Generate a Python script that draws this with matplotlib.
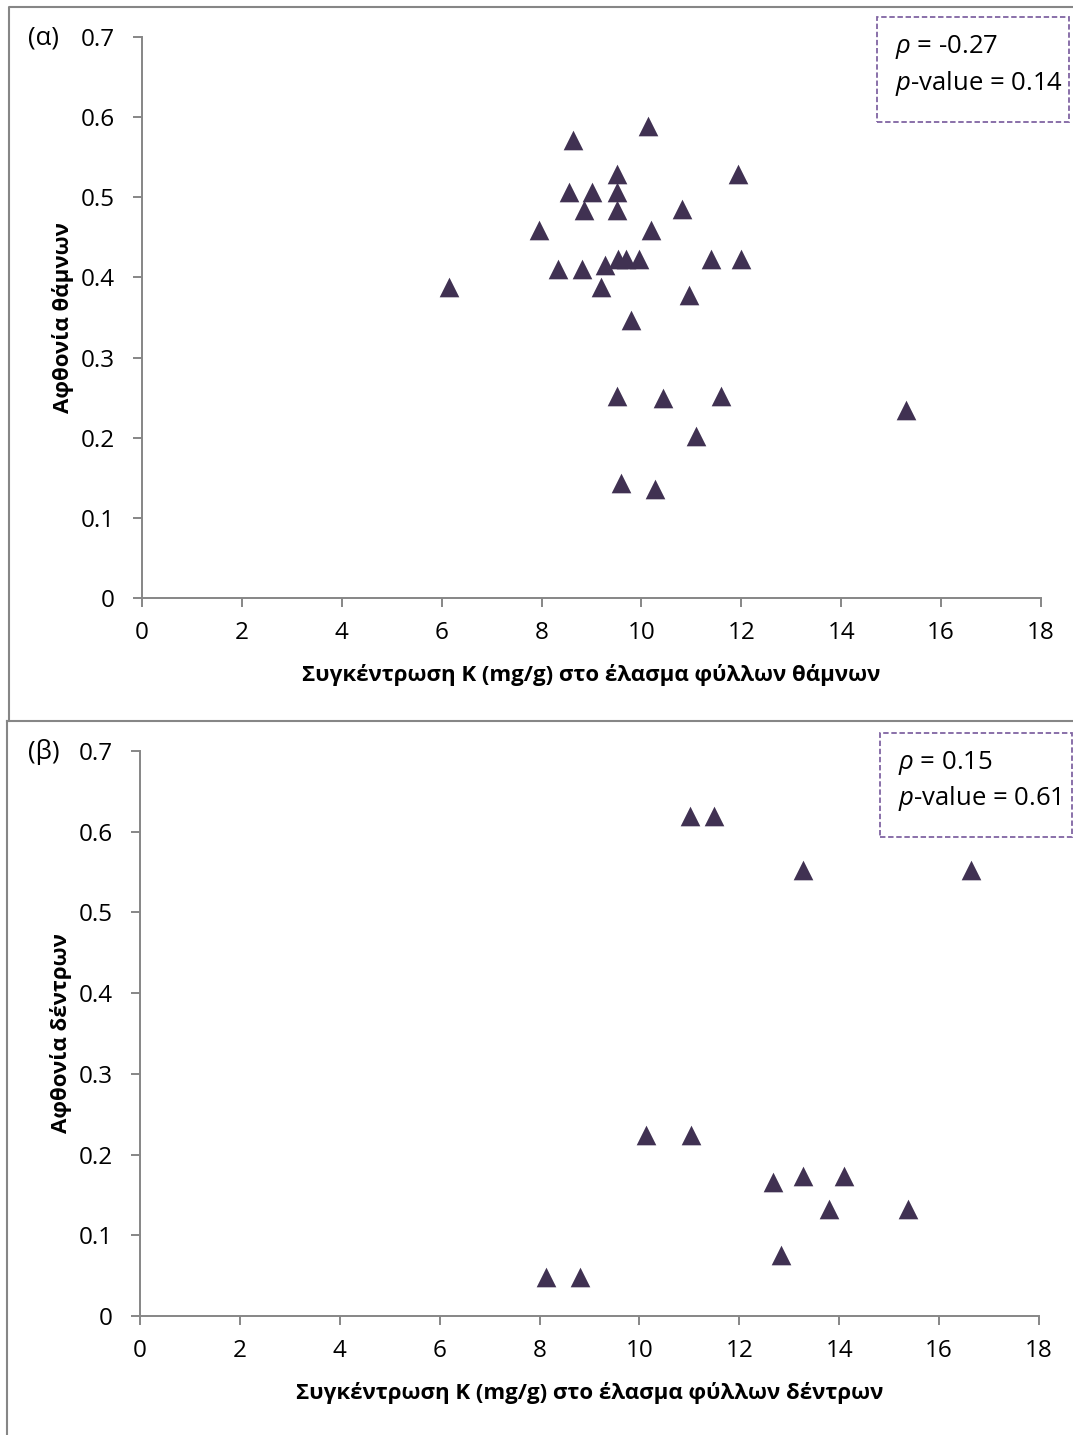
import matplotlib
matplotlib.use('Agg')
import matplotlib.pyplot as plt
from matplotlib.lines import Line2D
from matplotlib.patches import Rectangle

# K concentration (mg/g) in leaf lamina vs. abundance
shrub_k = [10.13, 8.62, 9.52, 11.93, 8.55, 9.00, 9.52, 8.85, 9.52, 10.81,
           7.94, 10.19, 8.32, 8.81, 9.28, 9.54, 9.69, 9.96, 11.40, 12.00,
           6.15, 9.20, 10.95, 9.80, 9.52, 10.43, 11.60, 11.10, 9.60, 10.28,
           15.30]
shrub_abund = [0.589, 0.571, 0.529, 0.529, 0.507, 0.507, 0.506, 0.484, 0.484, 0.485,
               0.459, 0.459, 0.411, 0.411, 0.416, 0.423, 0.423, 0.423, 0.423, 0.423,
               0.388, 0.388, 0.378, 0.347, 0.252, 0.250, 0.252, 0.202, 0.143, 0.136,
               0.235]

tree_k = [11.01, 11.50, 13.28, 16.63, 10.13, 11.03, 12.68, 13.28, 14.10,
          13.80, 15.38, 12.83, 8.13, 8.81]
tree_abund = [0.620, 0.620, 0.553, 0.553, 0.224, 0.224, 0.166, 0.174, 0.174,
              0.132, 0.132, 0.076, 0.048, 0.048]

x_ticks = [0, 2, 4, 6, 8, 10, 12, 14, 16, 18]
y_ticks = [0, 0.1, 0.2, 0.3, 0.4, 0.5, 0.6, 0.7]

panels = [
    dict(letter='(α)', x=shrub_k, y=shrub_abund,
         xlabel='Συγκέντρωση K (mg/g) στο έλασμα φύλλων θάμνων',
         ylabel='Αφθονία θάμνων', rho='-0.27', pval='0.14'),
    dict(letter='(β)', x=tree_k, y=tree_abund,
         xlabel='Συγκέντρωση K (mg/g) στο έλασμα φύλλων δέντρων',
         ylabel='Αφθονία δέντρων', rho='0.15', pval='0.61'),
]

plt.rcParams['font.family'] = ['Open Sans', 'DejaVu Sans']
plt.rcParams['mathtext.fontset'] = 'custom'
plt.rcParams['mathtext.it'] = 'Open Sans:italic'

W, H = 1073, 1435
fig = plt.figure(figsize=(W / 100, H / 100), dpi=100)

gray = '#868686'
marker_col = '#403152'
box_col = '#8064a2'
fs = 17.5      # tick labels
fs_lab = 16    # bold axis titles
fs_box = 18.5  # correlation text


def fx(px):
    return px / W


def fy(py):
    return 1 - py / H


# axes boxes in pixels: left, top, right, bottom
boxes = [(142, 37, 1041, 598), (140, 751, 1039, 1316)]
# legend boxes: left, top, right, bottom
leg_boxes = [(877, 17, 1069, 122), (880, 733, 1072, 837)]

for p, (l, t, r, b), (ll, lt, lr, lb) in zip(panels, boxes, leg_boxes):
    ax = fig.add_axes([fx(l), fy(b), fx(r - l), fy(t) - fy(b)])
    ax.scatter(p['x'], p['y'], marker='^', s=200, color=marker_col,
               linewidths=0, zorder=3, clip_on=False)
    ax.set_xlim(0, 18)
    ax.set_ylim(0, 0.7)
    ax.set_xticks(x_ticks)
    ax.set_yticks(y_ticks)
    ax.set_xticklabels([str(v) for v in x_ticks])
    ax.set_yticklabels(['0'] + ['%.1f' % v for v in y_ticks[1:]])
    for side in ['top', 'right']:
        ax.spines[side].set_visible(False)
    for side in ['left', 'bottom']:
        ax.spines[side].set_color(gray)
        ax.spines[side].set_linewidth(1.4)
    ax.tick_params(axis='both', direction='out', length=6.5, width=1.4,
                   color=gray, labelsize=fs, labelcolor='black')
    ax.tick_params(axis='x', pad=10)
    ax.tick_params(axis='y', pad=13)
    ax.set_xlabel(p['xlabel'], fontsize=fs_lab, fontweight='bold', labelpad=14)
    ax.set_ylabel(p['ylabel'], fontsize=fs_lab, fontweight='bold', labelpad=4.5)

    # panel letter
    fig.text(fx(28), fy(t + 1), p['letter'], fontsize=fs + 1, ha='left', va='center')

    # correlation box
    fig.patches.append(Rectangle((fx(ll), fy(lb)), fx(lr - ll), fy(lt) - fy(lb),
                                 transform=fig.transFigure, fill=False,
                                 edgecolor=box_col, linewidth=1.3,
                                 linestyle=(0, (3, 1.5))))
    fig.text(fx(ll + 18), fy(lt + 30), r'$\rho$ = ' + p['rho'],
             fontsize=fs_box, ha='left', va='center')
    fig.text(fx(ll + 18), fy(lt + 66), r'$p$-value = ' + p['pval'],
             fontsize=fs_box, ha='left', va='center')

# outer frames around the two panels
frame = dict(color=gray, linewidth=1.5, transform=fig.transFigure)
fig.lines.append(Line2D([fx(9), fx(9), 1], [fy(721), fy(7), fy(7)], **frame))
fig.lines.append(Line2D([fx(7), 1], [fy(721), fy(721)], **frame))
fig.lines.append(Line2D([fx(7), fx(7)], [fy(721), 0], **frame))

fig.savefig('out.png', dpi=100)
